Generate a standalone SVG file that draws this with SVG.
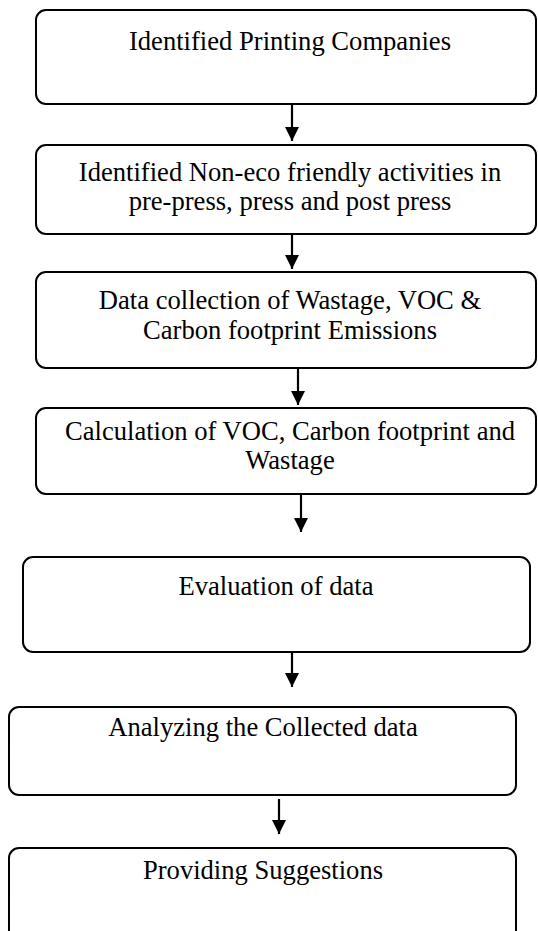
<svg xmlns="http://www.w3.org/2000/svg" width="538" height="931" viewBox="0 0 538 931">
<defs>
<style>
.box{fill:#fff;stroke:#000;stroke-width:2}
.t{font-family:"Liberation Serif","Times New Roman",serif;font-size:26.6px;fill:#000;text-anchor:middle}
.c{stroke:#000;stroke-width:2.2;fill:none}
</style>
<marker id="ah" markerUnits="userSpaceOnUse" markerWidth="14" markerHeight="14" viewBox="0 0 14 14" refX="14" refY="7" orient="auto">
<path d="M0,0 L14,7 L0,14 Z" fill="#000"/>
</marker>
</defs>
<rect width="538" height="931" fill="#fff"/>
<g id="connectors">
<line class="c" x1="292" y1="105" x2="292" y2="141" marker-end="url(#ah)"/>
<line class="c" x1="292" y1="235" x2="292" y2="269" marker-end="url(#ah)"/>
<line class="c" x1="298" y1="369" x2="298" y2="405" marker-end="url(#ah)"/>
<line class="c" x1="301" y1="495" x2="301" y2="532" marker-end="url(#ah)"/>
<line class="c" x1="292" y1="653" x2="292" y2="687" marker-end="url(#ah)"/>
<line class="c" x1="279" y1="799" x2="279" y2="834" marker-end="url(#ah)"/>
</g>
<g id="n1">
<rect class="box" x="36" y="10" width="500" height="94" rx="10"/>
<text class="t" x="290" y="50">Identified Printing Companies</text>
</g>
<g id="n2">
<rect class="box" x="36" y="145" width="500" height="89" rx="10"/>
<text class="t" x="290" y="181">Identified Non-eco friendly activities in</text>
<text class="t" x="290" y="210">pre-press, press and post press</text>
</g>
<g id="n3">
<rect class="box" x="36" y="272" width="500" height="96" rx="10"/>
<text class="t" x="290" y="309">Data collection of Wastage, VOC &amp;</text>
<text class="t" x="290" y="339">Carbon footprint Emissions</text>
</g>
<g id="n4">
<rect class="box" x="36" y="408" width="500" height="86" rx="10"/>
<text class="t" x="290" y="440">Calculation of VOC, Carbon footprint and</text>
<text class="t" x="290" y="469">Wastage</text>
</g>
<g id="n5">
<rect class="box" x="23" y="557" width="507" height="95" rx="10"/>
<text class="t" x="276" y="595">Evaluation of data</text>
</g>
<g id="n6">
<rect class="box" x="9" y="707" width="507" height="88" rx="10"/>
<text class="t" x="263" y="736">Analyzing the Collected data</text>
</g>
<g id="n7">
<rect class="box" x="9" y="848" width="507" height="100" rx="10"/>
<text class="t" x="263" y="879">Providing Suggestions</text>
</g>
</svg>
